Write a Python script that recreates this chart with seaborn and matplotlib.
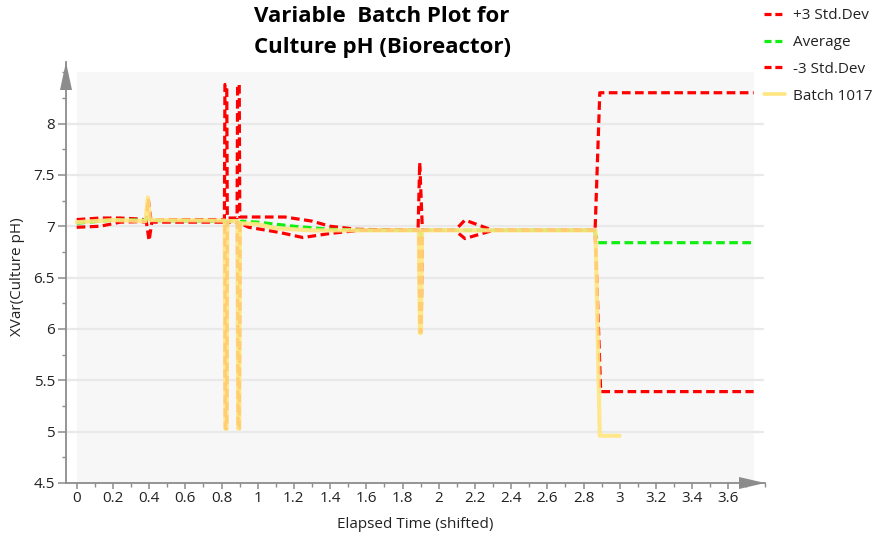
import matplotlib
matplotlib.use("Agg")
import matplotlib.pyplot as plt
from matplotlib.patches import Rectangle, Polygon
from matplotlib.ticker import MultipleLocator, FuncFormatter
from matplotlib.lines import Line2D
import seaborn as sns

# ---------------- data ----------------
t_upper = [0.0, 0.13, 0.24, 0.35, 0.385, 0.395, 0.41, 0.5, 0.816, 0.819, 0.829, 0.832,
           0.886, 0.889, 0.898, 0.901, 0.95, 1.15, 1.3, 1.4, 1.55, 1.886, 1.895, 1.91,
           2.09, 2.145, 2.30, 2.864, 2.89, 3.74]
v_upper = [7.065, 7.08, 7.08, 7.07, 7.06, 7.27, 7.06, 7.065, 7.065, 8.38, 8.38, 7.08,
           7.08, 8.38, 8.38, 7.09, 7.09, 7.09, 7.05, 7.0, 6.97, 6.96, 7.62, 6.96,
           6.96, 7.06, 6.96, 6.96, 8.30, 8.30]

t_lower = [0.0, 0.13, 0.24, 0.35, 0.385, 0.40, 0.415, 0.5, 0.818, 0.822, 0.828, 0.832,
           0.888, 0.892, 0.898, 0.902, 0.95, 1.12, 1.25, 1.4, 1.56, 1.89, 1.897, 1.903,
           1.91, 2.09, 2.145, 2.30, 2.864, 2.895, 3.74]
v_lower = [6.99, 7.0, 7.04, 7.045, 7.04, 6.86, 7.04, 7.04, 7.04, 5.03, 5.03, 7.04,
           7.04, 5.03, 5.03, 7.03, 6.99, 6.94, 6.89, 6.93, 6.96, 6.96, 5.97, 5.97,
           6.96, 6.96, 6.88, 6.96, 6.96, 5.39, 5.39]

t_avg = [0.0, 0.2, 0.38, 0.395, 0.41, 0.82, 0.83, 0.84, 0.89, 0.90, 0.91, 1.0, 1.2,
         1.4, 1.6, 1.893, 1.90, 1.91, 2.86, 2.88, 3.74]
v_avg = [7.03, 7.06, 7.06, 7.08, 7.055, 7.05, 7.0, 7.05, 7.05, 6.97, 7.05, 7.04, 7.0,
         6.97, 6.96, 6.96, 6.90, 6.96, 6.96, 6.84, 6.84]

t_batch = [0.0, 0.2, 0.38, 0.393, 0.405, 0.42, 0.818, 0.822, 0.828, 0.832, 0.888, 0.892,
           0.898, 0.902, 1.0, 1.1, 1.3, 1.6, 1.89, 1.896, 1.902, 1.908, 2.866, 2.89, 3.0]
v_batch = [7.04, 7.06, 7.05, 7.28, 7.06, 7.06, 7.055, 5.03, 5.03, 7.05, 7.05, 5.03,
           5.03, 7.03, 7.02, 6.98, 6.96, 6.96, 6.96, 5.96, 5.96, 6.96, 6.96, 4.96, 4.96]

legend_labels = ["+3 Std.Dev", "Average", "-3 Std.Dev", "Batch 1017"]
x_ticks = [round(0.2 * i, 1) for i in range(19)]
y_ticks = [4.5, 5, 5.5, 6, 6.5, 7, 7.5, 8]

# ---------------- style ----------------
sns.set_style("white")
plt.rcParams["font.family"] = ["Open Sans", "DejaVu Sans"]

W, H = 881, 537
fig = plt.figure(figsize=(W / 100, H / 100), dpi=100)
ax_l, ax_r, ax_t, ax_b = 66, 765, 62, 483
ax = fig.add_axes([ax_l / W, 1 - ax_b / H, (ax_r - ax_l) / W, (ax_b - ax_t) / H])

xmin = (ax_l - 76.7) / 181.0
xmax = (ax_r - 76.7) / 181.0
ax.set_xlim(xmin, xmax)
ax.set_ylim(4.5, 4.5 + (ax_b - ax_t) / 102.7)

# plot background
ax.add_patch(Rectangle((0, 4.5), 3.74, 4.0, facecolor="#f7f7f7", edgecolor="none", zorder=0))
for yv in y_ticks[1:]:
    ax.axhline(yv, xmin=0, xmax=(763 - ax_l) / (ax_r - ax_l), color="#e9e9e9", lw=1.6, zorder=0.5)

red = "#ff0000"
green = "#11ee11"
yellow = "#ffe680"
dash = (0, (2.7, 1.4))

sns.lineplot(x=t_upper, y=v_upper, ax=ax, color=red, lw=2.3, linestyle=dash, estimator=None, sort=False, zorder=3)
sns.lineplot(x=t_avg, y=v_avg, ax=ax, color=green, lw=2.3, linestyle=dash, estimator=None, sort=False, zorder=3)
sns.lineplot(x=t_lower, y=v_lower, ax=ax, color=red, lw=2.3, linestyle=dash, estimator=None, sort=False, zorder=3)
sns.lineplot(x=t_batch, y=v_batch, ax=ax, color=yellow, lw=3.0, alpha=0.9, estimator=None, sort=False, zorder=4)

# spines / axes lines
for s in ["top", "right"]:
    ax.spines[s].set_visible(False)
axis_col = "#8c8c8c"
for s in ["left", "bottom"]:
    ax.spines[s].set_color(axis_col)
    ax.spines[s].set_linewidth(1.3)

# arrows
aw = 6 / (ax_r - ax_l)
ah = 28 / (ax_b - ax_t)
ax.add_patch(Polygon([(-aw, 1 - ah), (aw, 1 - ah), (0, 1.0)], closed=True,
                     transform=ax.transAxes, facecolor=axis_col, edgecolor="none", clip_on=False))
bw = 26 / (ax_r - ax_l)
bh = 6 / (ax_b - ax_t)
ax.add_patch(Polygon([(1 - bw, -bh), (1 - bw, bh), (1.0, 0)], closed=True,
                     transform=ax.transAxes, facecolor=axis_col, edgecolor="none", clip_on=False))

# ticks
ax.set_xticks(x_ticks)
ax.xaxis.set_minor_locator(MultipleLocator(0.1))
ax.set_yticks(y_ticks)
ax.yaxis.set_minor_locator(MultipleLocator(0.25))
fmt = FuncFormatter(lambda v, p: ("%g" % round(v, 2)))
ax.xaxis.set_major_formatter(fmt)
ax.yaxis.set_major_formatter(fmt)
ax.tick_params(axis="x", which="major", length=4, width=1.1, color=axis_col, pad=2,
               labelsize=11, labelcolor="#222222", direction="out", bottom=True)
ax.tick_params(axis="x", which="minor", length=3, width=1.0, color=axis_col, bottom=True, direction="out")
ax.tick_params(axis="y", which="major", length=6, width=1.1, color=axis_col, pad=2,
               labelsize=11, labelcolor="#222222", direction="out", left=True)
ax.tick_params(axis="y", which="minor", length=3, width=1.0, color=axis_col, left=True, direction="out")
ax.set_xlabel("")
ax.set_ylabel("")

fig.text(415 / W, 1 - 524 / H, "Elapsed Time (shifted)", ha="center", va="center", fontsize=11, color="#222222")
fig.text(18 / W, 1 - 277 / H, "XVar(Culture pH)", ha="center", va="center", rotation=90, fontsize=11, color="#222222")

fig.text(382 / W, 1 - 17 / H, "Variable  Batch Plot for", ha="center", va="center",
         fontsize=16, fontweight="bold", color="#000000")
fig.text(382 / W, 1 - 48 / H, "Culture pH (Bioreactor)", ha="center", va="center",
         fontsize=16, fontweight="bold", color="#000000")

handles = [
    Line2D([], [], color=red, lw=2.3, linestyle=(0, (2.2, 1.2))),
    Line2D([], [], color=green, lw=2.3, linestyle=(0, (2.2, 1.2))),
    Line2D([], [], color=red, lw=2.3, linestyle=(0, (2.2, 1.2))),
    Line2D([], [], color=yellow, lw=2.6),
]
leg = fig.legend(handles, legend_labels, loc="upper left", bbox_to_anchor=(764 / W, 1 - 8 / H),
                 frameon=False, fontsize=11, handlelength=1.35, handletextpad=0.55,
                 labelspacing=0.78, borderpad=0, borderaxespad=0)
for tx in leg.get_texts():
    tx.set_color("#222222")

fig.savefig("out.png", dpi=100)
